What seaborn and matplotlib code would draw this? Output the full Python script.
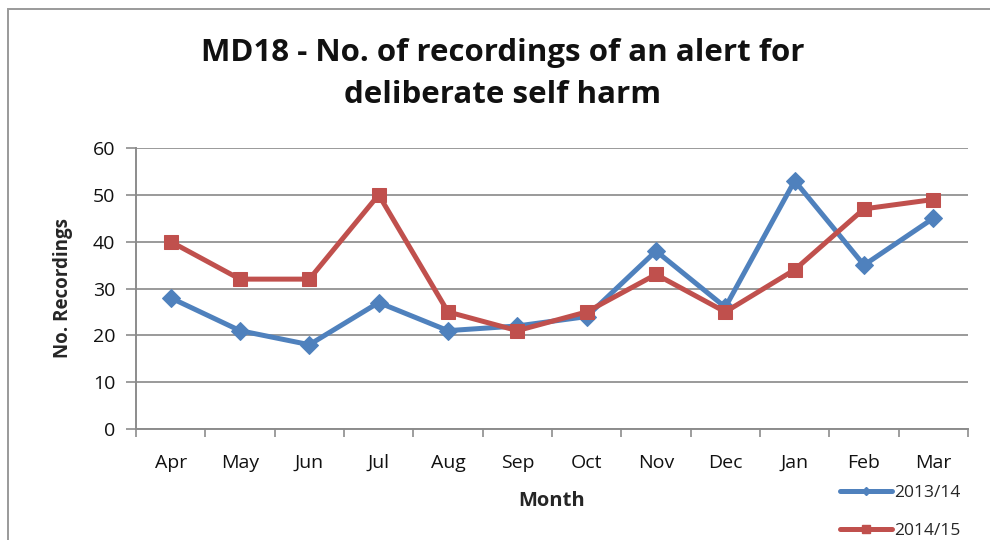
import matplotlib
matplotlib.use("Agg")
import matplotlib.pyplot as plt
from matplotlib.lines import Line2D
from matplotlib.patches import Rectangle
import seaborn as sns
import pandas as pd

months = ["Apr", "May", "Jun", "Jul", "Aug", "Sep", "Oct", "Nov", "Dec", "Jan", "Feb", "Mar"]
series_names = ["2013/14", "2014/15"]
values_2013_14 = [28, 21, 18, 27, 21, 22, 24, 38, 26, 53, 35, 45]
values_2014_15 = [40, 32, 32, 50, 25, 21, 25, 33, 25, 34, 47, 49]
y_ticks = [0, 10, 20, 30, 40, 50, 60]

colors = {"2013/14": "#4F81BD", "2014/15": "#C0504D"}
markers = {"2013/14": "D", "2014/15": "s"}

df = pd.DataFrame({
    "Month": months * 2,
    "Recordings": values_2013_14 + values_2014_15,
    "Year": [series_names[0]] * len(months) + [series_names[1]] * len(months),
})

sns.set_style("white")
plt.rcParams["font.family"] = ["Open Sans", "DejaVu Sans"]

fig = plt.figure(figsize=(9.9, 5.4), dpi=100)
ax = fig.add_axes([136 / 990, 1 - 429 / 540, (968 - 136) / 990, (429 - 148) / 540])

for name in series_names:
    sub = df[df["Year"] == name]
    sns.lineplot(data=sub, x="Month", y="Recordings", ax=ax, color=colors[name],
                 marker=markers[name], markersize=10 if name == "2014/15" else 9,
                 markeredgecolor=colors[name], linewidth=3.6, legend=False,
                 sort=False, zorder=3)

ax.set_xlim(-0.5, len(months) - 0.5)
ax.set_ylim(0, 60)
ax.set_yticks(y_ticks)
ax.set_xticks(range(len(months)))
ax.set_xticklabels(months)
ax.set_xticks([i - 0.5 for i in range(len(months) + 1)], minor=True)

ax.yaxis.grid(True, color="#9a9a9a", linewidth=1.4)
ax.xaxis.grid(False)
ax.set_axisbelow(True)

for s in ["top", "right"]:
    ax.spines[s].set_visible(False)
for s in ["left", "bottom"]:
    ax.spines[s].set_color("#8c8c8c")
    ax.spines[s].set_linewidth(1.4)

ax.tick_params(axis="y", which="major", left=True, length=7, width=1.2, color="#8c8c8c",
               labelsize=14, labelcolor="#111111", pad=8)
ax.tick_params(axis="x", which="major", bottom=False, length=0, labelsize=14,
               labelcolor="#111111", pad=18)
ax.tick_params(axis="x", which="minor", bottom=True, length=6, width=1.2, color="#8c8c8c")

ax.set_xlabel("Month", fontsize=14.5, fontweight="bold", labelpad=14)
ax.set_ylabel("No. Recordings", fontsize=13.5, fontweight="bold", labelpad=14)

fig.text(503 / 990, 1 - 74 / 540, "MD18 - No. of recordings of an alert for\ndeliberate self harm",
         ha="center", va="center", fontsize=22.5, fontweight="bold", linespacing=1.55,
         color="#111111")

handles = [Line2D([], [], color=colors[n], marker=markers[n], markersize=6 if n == "2014/15" else 4,
                  linewidth=3.6) for n in series_names]
fig.legend(handles, series_names, loc="center left", bbox_to_anchor=(840 / 990, 1 - 512 / 540),
           frameon=False, fontsize=12.5, handlelength=3.0, handletextpad=0.1, labelspacing=1.25,
           borderaxespad=0, borderpad=0)

fig.patches.append(Rectangle((8 / 990, -0.1), 1.2, 1.1 - 9 / 540, transform=fig.transFigure,
                             fill=False, edgecolor="#9a9a9a", linewidth=1.4))

fig.savefig("out.png", dpi=100)
